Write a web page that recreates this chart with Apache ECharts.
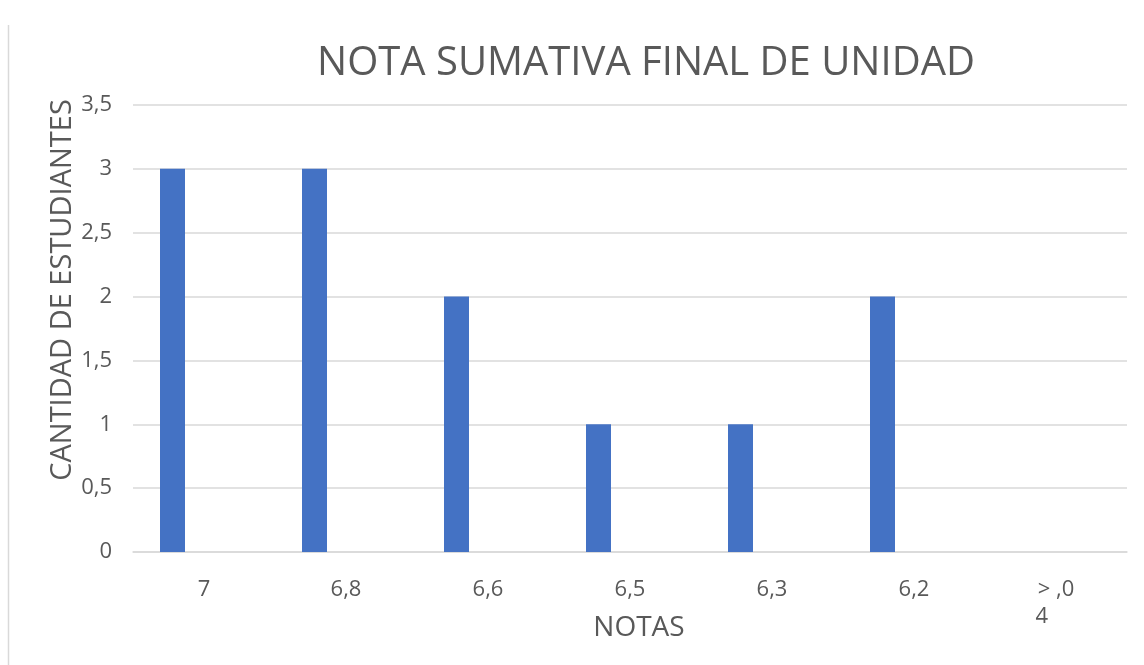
<!DOCTYPE html>
<html><head><meta charset="utf-8">
<script src="https://cdn.jsdelivr.net/npm/echarts@6/dist/echarts.min.js"></script>
<style>html,body{margin:0;padding:0;background:#fff}#c{width:1144px;height:665px}</style>
</head><body><div id="c"></div>
<script>
const categories = ['7', '6,8', '6,6', '6,5', '6,3', '6,2', '> ,0\n4\u00a0\u00a0\u00a0\u00a0\u00a0'];
const students = [3, 3, 2, 1, 1, 2, 0];
const emptySeries = [null, null, null, null, null, null, null];
const yTicks = { min: 0, max: 3.5, interval: 0.5 };
const titleText = 'NOTA SUMATIVA FINAL DE UNIDAD';
const yName = 'CANTIDAD DE ESTUDIANTES';
const xName = 'NOTAS';

const chart = echarts.init(document.getElementById('c'), null, { renderer: 'canvas' });
const labelColor = '#595959';
const fontFam = '"Open Sans", "Noto Sans", sans-serif';
chart.setOption({
  animation: false,
  title: {
    text: titleText, left: 641, top: 39, textAlign: 'center',
    textStyle: { fontFamily: fontFam, fontSize: 40, fontWeight: 'normal', color: labelColor }
  },
  grid: { left: 133, right: 17, top: 105, bottom: 113 },
  xAxis: {
    type: 'category', data: categories,
    axisLine: { lineStyle: { color: '#d9d9d9', width: 1.5 } },
    axisTick: { show: false },
    axisLabel: { color: labelColor, fontFamily: fontFam, fontSize: 22, margin: 24, lineHeight: 27, interval: 0 }
  },
  yAxis: {
    type: 'value', min: yTicks.min, max: yTicks.max, interval: yTicks.interval,
    axisLine: { show: false }, axisTick: { show: false },
    splitLine: { lineStyle: { color: '#d9d9d9', width: 1.5 } },
    axisLabel: {
      color: labelColor, fontFamily: fontFam, fontSize: 22, margin: 21,
      formatter: v => String(v).replace('.', ',')
    }
  },
  series: [
    { type: 'bar', data: students, barWidth: 25, barGap: '152%', itemStyle: { color: '#4472C4' } },
    { type: 'bar', data: emptySeries, barWidth: 25, itemStyle: { color: '#ED7D31' } }
  ],
  graphic: [
    { type: 'line', shape: { x1: 8.5, y1: 25, x2: 8.5, y2: 665 }, style: { stroke: '#d9d9d9', lineWidth: 1.5 } },
    { type: 'text', x: 63, y: 290, rotation: Math.PI / 2,
      style: { text: yName, textAlign: 'center', textVerticalAlign: 'middle', fill: labelColor, font: '29px "Open Sans", sans-serif' } },
    { type: 'text', x: 639, y: 628,
      style: { text: xName, textAlign: 'center', textVerticalAlign: 'middle', fill: labelColor, font: '28px "Open Sans", sans-serif' } }
  ]
});
</script></body></html>
